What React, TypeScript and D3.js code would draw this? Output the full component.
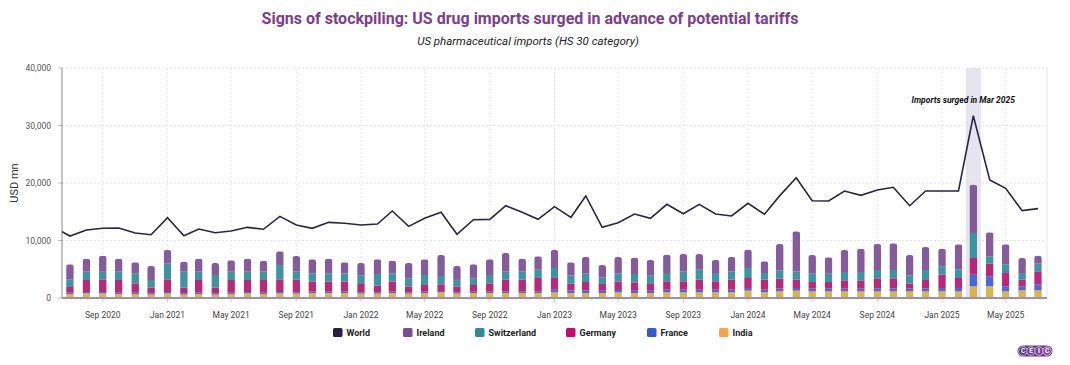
import React from "react";
import * as d3 from "d3";

// ---------- DATA ----------
const months = [
  "2020-07","2020-08","2020-09","2020-10","2020-11","2020-12",
  "2021-01","2021-02","2021-03","2021-04","2021-05","2021-06","2021-07","2021-08","2021-09","2021-10","2021-11","2021-12",
  "2022-01","2022-02","2022-03","2022-04","2022-05","2022-06","2022-07","2022-08","2022-09","2022-10","2022-11","2022-12",
  "2023-01","2023-02","2023-03","2023-04","2023-05","2023-06","2023-07","2023-08","2023-09","2023-10","2023-11","2023-12",
  "2024-01","2024-02","2024-03","2024-04","2024-05","2024-06","2024-07","2024-08","2024-09","2024-10","2024-11","2024-12",
  "2025-01","2025-02","2025-03","2025-04","2025-05","2025-06","2025-07",
];

// World line includes Jun 2020 (partly outside the plot on the left)
const worldMonths = ["2020-06", ...months];
const world = [
  12300, 10780, 11830, 12120, 12170, 11300, 11010,
  13970, 10840, 12000, 11360, 11650, 12290, 11950, 14200, 12700, 12120, 13160, 12990,
  12700, 12870, 15130, 12460, 13860, 14900, 11080, 13620, 13680, 16050, 14900, 13680,
  15880, 14030, 17740, 12290, 13100, 14610, 13860, 16290, 14660, 16290, 14610, 14260,
  16470, 14560, 17800, 20920, 16920, 16870, 18610, 17860, 18780, 19250, 16050, 18610,
  18610, 18610, 31700, 20520, 19070, 15190, 15540,
];

const india = [
  700, 810, 810, 700, 700, 580,
  810, 580, 700, 580, 700, 810, 700, 810, 760, 870, 870, 870,
  760, 760, 870, 760, 870, 990, 760, 870, 870, 870, 870, 870,
  990, 870, 870, 870, 990, 870, 870, 990, 990, 990, 990, 990,
  1280, 990, 1160, 1280, 1160, 1160, 1160, 1160, 1160, 1160, 1160, 1160,
  1160, 1160, 2030, 2030, 1160, 1330, 1330,
];
const france = [
  230, 230, 230, 230, 230, 230,
  230, 230, 230, 230, 230, 230, 230, 230, 230, 230, 230, 230,
  230, 230, 230, 230, 230, 230, 230, 230, 230, 290, 290, 290,
  460, 460, 460, 400, 400, 400, 400, 460, 460, 460, 460, 460,
  460, 460, 460, 460, 460, 460, 460, 460, 520, 520, 460, 520,
  580, 580, 2030, 1740, 870, 700, 990,
];
const germany = [
  990, 2090, 2200, 2200, 1620, 990,
  2200, 990, 2200, 990, 2200, 2090, 2200, 2200, 2200, 1740, 1740, 1740,
  1450, 1160, 1740, 990, 1160, 1160, 990, 1160, 1450, 2030, 2030, 2320,
  2030, 1160, 1450, 1160, 1450, 1450, 1160, 1450, 1450, 1740, 1450, 1740,
  1740, 1740, 1740, 1450, 1160, 1160, 1450, 1450, 1740, 1740, 870, 1450,
  2320, 1740, 2900, 2200, 2320, 1160, 2320,
];
const switzerland = [
  1330, 1450, 1330, 1450, 1740, 1330,
  2780, 2780, 1450, 2200, 1450, 1450, 1450, 2490, 1450, 1450, 1450, 1450,
  1450, 2030, 1450, 1450, 1740, 1450, 1160, 1160, 1450, 1450, 1450, 1450,
  1740, 1450, 1450, 1160, 1450, 1450, 1450, 1450, 1740, 1740, 1450, 1450,
  1740, 1160, 1450, 1450, 1450, 1450, 1450, 1450, 1450, 1450, 1450, 1740,
  1450, 1450, 4350, 1280, 1450, 1160, 1330,
];
const ireland = [
  2610, 2260, 2790, 2260, 1910, 2430,
  2330, 1740, 2260, 2090, 1970, 2260, 1910, 2390, 2660, 2440, 2550, 1910,
  2200, 2550, 2200, 2660, 2730, 3650, 2420, 2440, 2730, 3190, 2200, 2320,
  3130, 2260, 2900, 2150, 2840, 2840, 2730, 3190, 3010, 2720, 2260, 2490,
  3190, 2030, 4580, 6950, 3250, 2840, 3830, 4060, 4520, 4640, 3540, 4000,
  3070, 4400, 8390, 4170, 3530, 2610, 1390,
];

const yTicks = [0, 10000, 20000, 30000, 40000];
const seriesNames = ["World", "Ireland", "Switzerland", "Germany", "France", "India"];
const barColors: Record<string, string> = {
  India: "#d6b03e",
  France: "#3d5bd4",
  Germany: "#b3176f",
  Switzerland: "#2f8a9b",
  Ireland: "#7a4e92",
};
const legendColors = ["#2a1f45", "#7a4e92", "#2f8a9b", "#c0106a", "#3557d0", "#f5a54a"];
const legendX = [333, 403, 475, 566, 647, 719];

const title = "Signs of stockpiling: US drug imports surged in advance of potential tariffs";
const subtitle = "US pharmaceutical imports (HS 30 category)";
const annotation = "Imports surged in Mar 2025";
const highlightMonth = "2025-03";
const logoLetters = ["C", "E", "I", "C"];

// ---------- CHART ----------
const W = 1070, H = 365;
const left = 62, right = 1047, top = 68, bottom = 298;
const parse = d3.timeParse("%Y-%m");

export default function App() {
  const x = d3.scaleTime()
    .domain([new Date(2020, 5, 16), new Date(2025, 6, 18)])
    .range([left, right]);
  const y = d3.scaleLinear().domain([0, 40000]).range([bottom, top]);
  const xTicks = x.ticks(d3.timeMonth.every(4) as any);
  const fmtX = d3.timeFormat("%b %Y");
  const fmtY = d3.format(",");

  const stackOrder = ["India", "France", "Germany", "Switzerland", "Ireland"];
  const seriesData: Record<string, number[]> = { India: india, France: france, Germany: germany, Switzerland: switzerland, Ireland: ireland };
  const rows = months.map((m, i) => {
    const r: any = { date: parse(m) };
    stackOrder.forEach((k) => (r[k] = seriesData[k][i]));
    return r;
  });
  const stack = d3.stack<any>().keys(stackOrder)(rows);

  const barW = 7.6;
  const rad = 2.8;
  const line = d3.line<number>()
    .x((_, i) => x(parse(worldMonths[i])!))
    .y((d) => y(d));

  const hx = x(parse(highlightMonth)!);
  const bandW = 15;

  const barPath = (cx: number, yTop: number) => {
    const x0 = cx - barW / 2, x1 = cx + barW / 2;
    return `M${x0},${bottom} L${x0},${yTop + rad} Q${x0},${yTop} ${x0 + rad},${yTop} L${x1 - rad},${yTop} Q${x1},${yTop} ${x1},${yTop + rad} L${x1},${bottom} Z`;
  };

  const font = "Roboto, 'Noto Sans', sans-serif";

  return (
    <svg width={W} height={H} style={{ position: "absolute", left: 0, top: 0, background: "#fff" }} fontFamily={font}>
      <defs>
        <clipPath id="plotclip">
          <rect x={left} y={top - 5} width={right - left} height={bottom - top + 5} />
        </clipPath>
        {rows.map((r, i) => {
          const total = stack[stack.length - 1][i][1];
          return (
            <clipPath id={`bar${i}`} key={i}>
              <path d={barPath(x(r.date), y(total))} />
            </clipPath>
          );
        })}
      </defs>

      {/* Titles */}
      <text x={530} y={24} textAnchor="middle" fontSize={16} fontWeight={700} fill="#7b3e8e">{title}</text>
      <text x={528} y={45} textAnchor="middle" fontSize={11.5} fontStyle="italic" fill="#222">{subtitle}</text>

      {/* Highlight band */}
      <rect x={hx - bandW / 2} y={top} width={bandW} height={bottom - top} fill="#e6e5ee" />

      {/* Grid */}
      {yTicks.map((t) => (
        <g key={t}>
          <line x1={left} x2={right} y1={y(t)} y2={y(t)} stroke="#e2e2e2" strokeDasharray="2,2" />
          <line x1={left - 4} x2={left} y1={y(t)} y2={y(t)} stroke="#bbb" />
          <text x={51} y={y(t) + 3} textAnchor="end" fontSize={8.5} fill="#555">{fmtY(t)}</text>
        </g>
      ))}
      {xTicks.map((t, i) => (
        <g key={i}>
          <line x1={x(t)} x2={x(t)} y1={top} y2={bottom} stroke="#e8e8e8" strokeDasharray="2,2" />
          <line x1={x(t)} x2={x(t)} y1={bottom} y2={bottom + 4} stroke="#f0b8d8" />
          <text x={x(t)} y={318} textAnchor="middle" fontSize={8.5} fill="#444">{fmtX(t)}</text>
        </g>
      ))}
      <line x1={right} x2={right} y1={top} y2={bottom} stroke="#e6e6e6" />

      {/* Axis label */}
      <text transform={`translate(18,${(top + bottom) / 2}) rotate(-90)`} textAnchor="middle" fontSize={11} fill="#333">USD mn</text>

      {/* Bars */}
      {rows.map((r, i) => (
        <g key={i} clipPath={`url(#bar${i})`}>
          {stack.map((s) => (
            <rect key={s.key}
              x={x(r.date) - barW / 2}
              y={y(s[i][1])}
              width={barW}
              height={y(s[i][0]) - y(s[i][1])}
              fill={barColors[s.key]}
              opacity={0.92} />
          ))}
        </g>
      ))}

      {/* Axes lines */}
      <line x1={left} x2={left} y1={top} y2={bottom} stroke="#8a8a8a" />
      <line x1={left} x2={right} y1={bottom} y2={bottom} stroke="#9d90ad" strokeWidth={2} />

      {/* World line */}
      <g clipPath="url(#plotclip)">
        <path d={line(world) || ""} fill="none" stroke="#2b2442" strokeWidth={1.6} strokeLinejoin="miter" />
      </g>

      {/* Annotation */}
      <text x={1015} y={103} textAnchor="end" fontSize={8.5} fontWeight={700} fontStyle="italic" fill="#111">{annotation}</text>

      {/* Legend */}
      {seriesNames.map((n, i) => (
        <g key={n} transform={`translate(${legendX[i]},328)`}>
          <rect x={0} y={0} width={9.5} height={9} rx={1.5} fill={legendColors[i]} />
          <text x={13.5} y={7.8} fontSize={9} fontWeight={700} fill="#222">{n}</text>
        </g>
      ))}

      {/* Logo */}
      <g transform="translate(1023,351)">
        <rect x={-5.5} y={-5.5} width={8 * 3 + 11} height={11} rx={5.5} fill="#5d3b8f" />
        {logoLetters.map((c, i) => (
          <g key={i} transform={`translate(${i * 8},0)`}>
            <circle r={4.3} fill={["#4a2f80", "#6a3e94", "#7a4399", "#8a4aa0"][i]} stroke="#fff" strokeWidth={0.6} />
            <text y={2.4} textAnchor="middle" fontSize={6.5} fontWeight={700} fill="#fff">{c}</text>
          </g>
        ))}
      </g>
    </svg>
  );
}
